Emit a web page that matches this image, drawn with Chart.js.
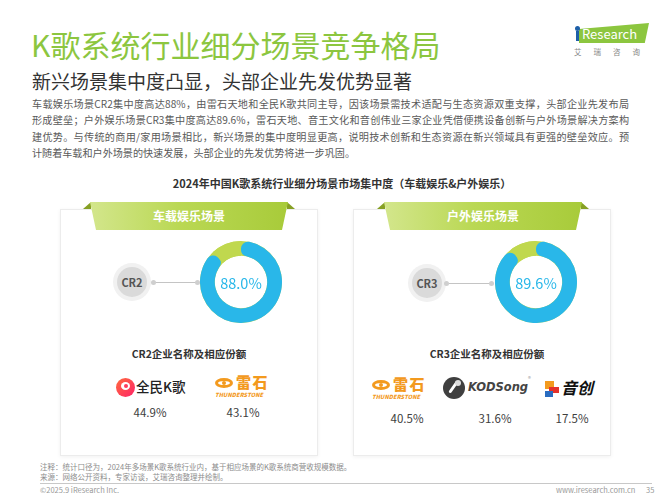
<!DOCTYPE html>
<html lang="zh-CN">
<head>
<meta charset="utf-8">
<script src="https://cdn.jsdelivr.net/npm/chart.js@4.4.1/dist/chart.umd.min.js"></script>
<style>
* { margin: 0; padding: 0; box-sizing: border-box; }
body { width: 667px; height: 500px; overflow: hidden; background: #fff; font-family: "Noto Sans CJK SC", sans-serif; }
#page { position: relative; width: 667px; height: 500px; }
.abs { position: absolute; white-space: nowrap; }
#title { left: 31px; top: 26px; font-size: 30px; line-height: 36px; color: #8cc63f; }
#subtitle { left: 32px; top: 69px; font-size: 19px; line-height: 24px; color: #333; }
#desc { left: 32px; top: 96px; width: 597px; font-size: 10.1px; line-height: 16.4px; color: #595959; white-space: normal; }
#desc div { text-align: justify; text-align-last: justify; }
#desc div.last { text-align-last: left; }
#chartTitle { left: 342px; top: 175px; transform: translateX(-50%); font-size: 11px; font-weight: 700; color: #333; }
.panel { top: 209px; width: 258px; height: 247px; border: 1px solid #ececec; background: #fff; box-shadow: 0 1px 4px rgba(0,0,0,0.06); }
.fold { top: 202px; width: 8px; height: 7px; background: #86a024; }
.foldL { clip-path: polygon(0 100%, 100% 0, 100% 100%); }
.foldR { clip-path: polygon(0 0, 100% 100%, 0 100%); }
.banner { top: 202px; width: 198px; height: 28px; line-height: 28px; text-align: center; color: #fff; font-size: 12px; font-weight: 700;
  background: linear-gradient(90deg, #d3e68c 0%, #bad854 45%, #a8cb3a 100%);
  clip-path: polygon(0 0, 100% 0, calc(100% - 6px) 100%, 6px 100%); }
.cr { width: 30px; height: 30px; border-radius: 50%; background: #dadada; box-shadow: 0 0 0 4px #f1f1f1; color: #555; font-size: 11px; font-weight: 700; line-height: 30px; text-align: center; }
.link { height: 1px; background: #c4c4c4; }
.dot { width: 5px; height: 5px; border-radius: 50%; background: #cfcfcf; }
.sub { top: 346px; transform: translateX(-50%); font-size: 10.5px; font-weight: 700; color: #333; }
.pct { transform: translateX(-50%); font-size: 11.5px; color: #404040; }
canvas { position: absolute; }
.ts-icon { width: 18px; height: 10px; border: 3px solid #f39a1e; border-radius: 50%; }
.ts-icon::after { content: ""; position: absolute; left: 4px; top: 0px; width: 4px; height: 4px; border-radius: 50%; background: #f39a1e; }
.ts-name { font-size: 15px; font-weight: 900; color: #f39a1e; letter-spacing: 1.5px; line-height: 15px; }
.ts-en { font-size: 5.6px; font-weight: 900; font-style: italic; color: #f39a1e; letter-spacing: 0.1px; line-height: 6px; }
.foot { font-size: 7.5px; color: #8c8c8c; line-height: 10px; }
</style>
</head>
<body>
<div id="page">
  <div class="abs" id="title">K歌系统行业细分场景竞争格局</div>
  <div class="abs" id="subtitle">新兴场景集中度凸显，头部企业先发优势显著</div>
  <div class="abs" id="desc">
    <div>车载娱乐场景CR2集中度高达88%，由雷石天地和全民K歌共同主导，因该场景需技术适配与生态资源双重支撑，头部企业先发布局</div>
    <div>形成壁垒；户外娱乐场景CR3集中度高达89.6%，雷石天地、音王文化和音创伟业三家企业凭借便携设备创新与户外场景解决方案构</div>
    <div>建优势。与传统的商用/家用场景相比，新兴场景的集中度明显更高，说明技术创新和生态资源在新兴领域具有更强的壁垒效应。预</div>
    <div class="last">计随着车载和户外场景的快速发展，头部企业的先发优势将进一步巩固。</div>
  </div>

  <!-- iResearch logo -->
  <div class="abs" style="left:579px;top:23px;width:70px;height:20px;background:#8cc63f;clip-path:polygon(0 30%,100% 0,94% 100%,0 100%);"></div>
  <div class="abs" style="left:575px;top:26px;width:5px;height:5px;border-radius:50%;background:#1d5fa8;"></div>
  <div class="abs" style="left:582px;top:25px;font-size:13px;line-height:18px;color:#fff;">Research</div>
  <div class="abs" style="left:576px;top:31px;width:3px;height:10px;background:#1d5fa8;"></div>
  <div class="abs" style="left:574px;top:46px;font-size:7.5px;color:#888;letter-spacing:12px;">艾瑞咨询</div>

  <div class="abs" id="chartTitle">2024年中国K歌系统行业细分场景市场集中度（车载娱乐&amp;户外娱乐）</div>

  <!-- left panel -->
  <div class="abs panel" style="left:60px;"></div>
  <div class="abs fold foldL" style="left:83px;"></div>
  <div class="abs fold foldR" style="left:287px;"></div>
  <div class="abs banner" id="banner0" style="left:90px;"></div>
  <div class="abs cr" id="cr0" style="left:117px;top:267px;"></div>
  <div class="abs link" style="left:154px;top:282px;width:44px;"></div>
  <div class="abs dot" style="left:151px;top:280px;"></div>
  <div class="abs dot" style="left:195px;top:280px;"></div>
  <canvas id="donut0" width="82" height="82" style="left:200px;top:241px;"></canvas>
  <div class="abs sub" id="sub0" style="left:189px;"></div>

  <!-- 全民K歌 -->
  <div class="abs" style="left:116px;top:378px;width:19px;height:19px;border-radius:50%;background:linear-gradient(135deg,#ff6a3d,#ff2468);"></div>
  <div class="abs" style="left:121px;top:382px;width:9px;height:8px;border-radius:50%;background:#fff;"></div>
  <div class="abs" style="left:124px;top:384px;width:4px;height:4px;border-radius:50%;background:#ff3a5c;"></div>
  <div class="abs" id="logo0" style="left:136px;top:376px;font-size:13.5px;font-weight:500;color:#222;line-height:20px;"></div>
  <!-- 雷石 left -->
  <div class="abs ts-icon" style="left:215px;top:378px;"></div>
  <div class="abs ts-name" id="logo1" style="left:236px;top:374px;"></div>
  <div class="abs ts-en" style="left:215px;top:392px;">THUNDERSTONE</div>

  <div class="abs pct" id="pct0" style="left:150px;top:404px;"></div>
  <div class="abs pct" id="pct1" style="left:243px;top:404px;"></div>

  <!-- right panel -->
  <div class="abs panel" style="left:353px;"></div>
  <div class="abs fold foldL" style="left:377px;"></div>
  <div class="abs fold foldR" style="left:581px;"></div>
  <div class="abs banner" id="banner1" style="left:384px;"></div>
  <div class="abs cr" id="cr1" style="left:412px;top:268px;"></div>
  <div class="abs link" style="left:447px;top:283px;width:45px;"></div>
  <div class="abs dot" style="left:444px;top:281px;"></div>
  <div class="abs dot" style="left:489px;top:281px;"></div>
  <canvas id="donut1" width="82" height="82" style="left:495px;top:241px;"></canvas>
  <div class="abs sub" id="sub1" style="left:487px;"></div>

  <!-- 雷石 right -->
  <div class="abs ts-icon" style="left:372px;top:380px;"></div>
  <div class="abs ts-name" id="logo2" style="left:393px;top:376px;"></div>
  <div class="abs ts-en" style="left:372px;top:394px;">THUNDERSTONE</div>
  <!-- KODSong -->
  <div class="abs" style="left:443px;top:377px;width:22px;height:22px;border-radius:50%;background:#3f3f3f;"></div>
  <div class="abs" style="left:452px;top:380px;width:3px;height:14px;background:#fff;transform:rotate(35deg);border-radius:2px;"></div>
  <div class="abs" style="left:455px;top:380px;width:6px;height:6px;border-radius:50%;background:#ddd;"></div>
  <div class="abs" id="logo3" style="left:468px;top:379px;font-family:'DejaVu Sans',sans-serif;font-size:11.5px;font-weight:700;font-style:italic;color:#444;line-height:16px;"></div>
  <div class="abs" style="left:528px;top:374px;font-size:6px;color:#999;">®</div>
  <!-- 音创 -->
  <div class="abs" style="left:545px;top:381px;width:9px;height:8px;background:#f39a1e;"></div>
  <div class="abs" style="left:549px;top:387px;width:10px;height:6px;background:#e4312b;"></div>
  <div class="abs" style="left:545px;top:391px;width:8px;height:6px;background:#2a6cc0;"></div>
  <div class="abs" id="logo4" style="left:561px;top:377px;font-size:16px;font-weight:700;font-style:italic;color:#111;line-height:20px;"></div>

  <div class="abs pct" id="pct2" style="left:407px;top:410px;"></div>
  <div class="abs pct" id="pct3" style="left:495px;top:410px;"></div>
  <div class="abs pct" id="pct4" style="left:572px;top:410px;"></div>

  <!-- footer -->
  <div class="abs foot" style="left:40px;top:462px;">注释：统计口径为，2024年多场景K歌系统行业内，基于相应场景的K歌系统商营收规模数据。</div>
  <div class="abs foot" style="left:40px;top:472px;">来源：网络公开资料，专家访谈，艾瑞咨询整理并绘制。</div>
  <div class="abs" style="left:40px;top:483px;width:612px;height:1px;background:#c8c8c8;"></div>
  <div class="abs foot" style="left:40px;top:485px;color:#999;">©2025.9 iResearch Inc.</div>
  <div class="abs foot" style="left:556px;top:485px;color:#999;">www.iresearch.com.cn</div>
  <div class="abs foot" style="left:646px;top:485px;color:#999;">35</div>
</div>

<script>
// 数据
const scenes = ['车载娱乐场景', '户外娱乐场景'];
const crNames = ['CR2', 'CR3'];
const crValues = [88.0, 89.6];
const carCompanies = ['全民K歌', '雷石'];
const carShares = [44.9, 43.1];
const outdoorCompanies = ['雷石', 'KODSong', '音创'];
const outdoorShares = [40.5, 31.6, 17.5];

const BLUE = '#29b7e9';
const GREEN = '#c0d84e';

// 文字填充
scenes.forEach((s, i) => {
	document.getElementById('banner' + i).textContent = s;
	document.getElementById('cr' + i).textContent = crNames[i];
	document.getElementById('sub' + i).textContent = crNames[i] + '企业名称及相应份额';
});
[...carCompanies, ...outdoorCompanies].forEach((name, i) => {
	document.getElementById('logo' + i).textContent = name;
});
[...carShares, ...outdoorShares].forEach((v, i) => {
	document.getElementById('pct' + i).textContent = v.toFixed(1) + '%';
});

// 底环 (圆角处补绿色)
const ringBg = {
	id: 'ringBg',
	beforeDatasetsDraw(chart) {
		const arc = chart.getDatasetMeta(0).data[0];
		const ctx = chart.ctx;
		ctx.save();
		ctx.beginPath();
		ctx.arc(arc.x, arc.y, arc.outerRadius, 0, Math.PI * 2);
		ctx.arc(arc.x, arc.y, arc.innerRadius, 0, Math.PI * 2, true);
		ctx.fillStyle = GREEN;
		ctx.fill();
		ctx.restore();
	}
};

// 中心数值
const centerText = {
	id: 'centerText',
	afterDatasetsDraw(chart) {
		const arc = chart.getDatasetMeta(0).data[0];
		const ctx = chart.ctx;
		ctx.save();
		ctx.font = '14.5px "Noto Sans CJK SC", sans-serif';
		ctx.fillStyle = BLUE;
		ctx.textAlign = 'center';
		ctx.textBaseline = 'middle';
		ctx.fillText(chart.data.datasets[0].data[0].toFixed(1) + '%', arc.x, arc.y + 1);
		ctx.restore();
	}
};

crValues.forEach((v, i) => {
	new Chart(document.getElementById('donut' + i), {
		type: 'doughnut',
		data: {
			labels: [crNames[i], '其他'],
			datasets: [{
				data: [v, 100 - v],
				backgroundColor: [BLUE, GREEN],
				borderWidth: 0,
				borderRadius: (c) => c.dataIndex === 0 ? 7 : 0
			}]
		},
		options: {
			responsive: false,
			animation: false,
			cutout: '64%',
			rotation: 0,
			layout: { padding: 0 },
			plugins: { legend: { display: false }, tooltip: { enabled: false } }
		},
		plugins: [ringBg, centerText]
	});
});
</script>
</body>
</html>
